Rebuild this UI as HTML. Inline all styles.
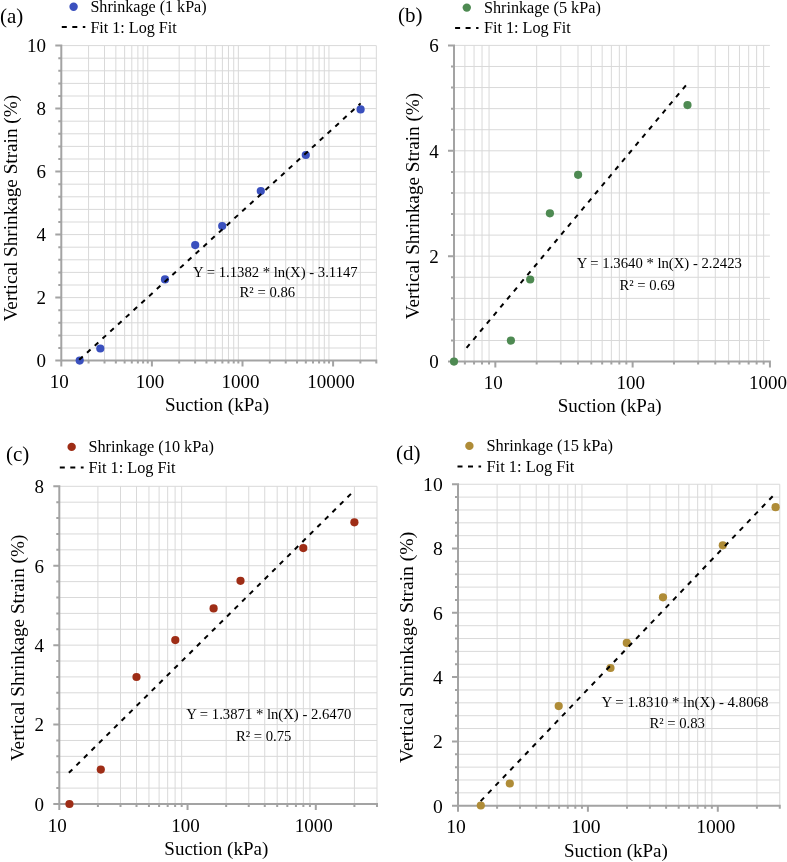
<!DOCTYPE html>
<html><head><meta charset="utf-8"><style>html,body{margin:0;padding:0;background:#fff;}svg{display:block;}</style></head>
<body>
<div style="will-change:transform">
<svg width="787" height="862" viewBox="0 0 787 862" style='font-family:"Liberation Serif", serif'>
<rect width="787" height="862" fill="#fff"/>
<path d="M61.3 348H376.33M61.3 335.4H376.33M61.3 322.8H376.33M61.3 310.2H376.33M61.3 297.6H376.33M61.3 285H376.33M61.3 272.4H376.33M61.3 259.8H376.33M61.3 247.2H376.33M61.3 234.6H376.33M61.3 222H376.33M61.3 209.4H376.33M61.3 196.8H376.33M61.3 184.2H376.33M61.3 171.6H376.33M61.3 159H376.33M61.3 146.4H376.33M61.3 133.8H376.33M61.3 121.2H376.33M61.3 108.6H376.33M61.3 96H376.33M61.3 83.4H376.33M61.3 70.8H376.33M61.3 58.2H376.33M61.3 45.6H376.33M88.57 45.6V360.6M104.53 45.6V360.6M115.85 45.6V360.6M124.63 45.6V360.6M131.8 45.6V360.6M137.87 45.6V360.6M143.12 45.6V360.6M147.75 45.6V360.6M179.17 45.6V360.6M195.13 45.6V360.6M206.45 45.6V360.6M215.23 45.6V360.6M222.4 45.6V360.6M228.47 45.6V360.6M233.72 45.6V360.6M238.35 45.6V360.6M269.77 45.6V360.6M285.73 45.6V360.6M297.05 45.6V360.6M305.83 45.6V360.6M313 45.6V360.6M319.07 45.6V360.6M324.32 45.6V360.6M328.95 45.6V360.6M360.37 45.6V360.6M376.33 45.6V360.6" stroke="#d9d9d9" stroke-width="1" fill="none"/>
<path d="M61.3 44.6V366.6M55.3 360.6H377.33M55.3 360.6H61.3M58.3 348H61.3M58.3 335.4H61.3M58.3 322.8H61.3M58.3 310.2H61.3M55.3 297.6H61.3M58.3 285H61.3M58.3 272.4H61.3M58.3 259.8H61.3M58.3 247.2H61.3M55.3 234.6H61.3M58.3 222H61.3M58.3 209.4H61.3M58.3 196.8H61.3M58.3 184.2H61.3M55.3 171.6H61.3M58.3 159H61.3M58.3 146.4H61.3M58.3 133.8H61.3M58.3 121.2H61.3M55.3 108.6H61.3M58.3 96H61.3M58.3 83.4H61.3M58.3 70.8H61.3M58.3 58.2H61.3M55.3 45.6H61.3M61.3 360.6V366.6M151.9 360.6V366.6M242.5 360.6V366.6M333.1 360.6V366.6M88.57 360.6V363.6M104.53 360.6V363.6M115.85 360.6V363.6M124.63 360.6V363.6M131.8 360.6V363.6M137.87 360.6V363.6M143.12 360.6V363.6M147.75 360.6V363.6M179.17 360.6V363.6M195.13 360.6V363.6M206.45 360.6V363.6M215.23 360.6V363.6M222.4 360.6V363.6M228.47 360.6V363.6M233.72 360.6V363.6M238.35 360.6V363.6M269.77 360.6V363.6M285.73 360.6V363.6M297.05 360.6V363.6M305.83 360.6V363.6M313 360.6V363.6M319.07 360.6V363.6M324.32 360.6V363.6M328.95 360.6V363.6M360.37 360.6V363.6M376.33 360.6V363.6" stroke="#a3a3a3" stroke-width="2" fill="none"/>
<circle cx="79.7" cy="360.6" r="4.1" fill="#3a50be"/>
<circle cx="100.3" cy="348.5" r="4.1" fill="#3a50be"/>
<circle cx="165" cy="279.4" r="4.1" fill="#3a50be"/>
<circle cx="195.2" cy="245.1" r="4.1" fill="#3a50be"/>
<circle cx="222.2" cy="226.1" r="4.1" fill="#3a50be"/>
<circle cx="260.8" cy="191.1" r="4.1" fill="#3a50be"/>
<circle cx="305.8" cy="155" r="4.1" fill="#3a50be"/>
<circle cx="360.6" cy="109.4" r="4.1" fill="#3a50be"/>
<path d="M79.23 359.82L360.6 103.38" stroke="#000" stroke-width="2" stroke-dasharray="4.8 5.7" fill="none"/>
<text x="46" y="367.4" font-size="19" text-anchor="end">0</text>
<text x="46" y="304.4" font-size="19" text-anchor="end">2</text>
<text x="46" y="241.4" font-size="19" text-anchor="end">4</text>
<text x="46" y="178.4" font-size="19" text-anchor="end">6</text>
<text x="46" y="115.4" font-size="19" text-anchor="end">8</text>
<text x="46" y="52.4" font-size="19" text-anchor="end">10</text>
<text x="59.3" y="388.2" font-size="19" text-anchor="middle">10</text>
<text x="149.9" y="388.2" font-size="19" text-anchor="middle">100</text>
<text x="240.5" y="388.2" font-size="19" text-anchor="middle">1000</text>
<text x="331.1" y="388.2" font-size="19" text-anchor="middle">10000</text>
<text transform="translate(16.7 208.15) rotate(-90)" font-size="19.2" text-anchor="middle">Vertical Shrinkage Strain (%)</text>
<text x="217" y="410.8" font-size="19" text-anchor="middle">Suction (kPa)</text>
<text x="275.35" y="277.2" font-size="14.7" text-anchor="middle">Y = 1.1382 * ln(X) - 3.1147</text>
<text x="267.35" y="296.6" font-size="14.7" text-anchor="middle">R² = 0.86</text>
<circle cx="73.6" cy="6.8" r="4.2" fill="#3a50be"/>
<path d="M61.8 27H85.3" stroke="#000" stroke-width="2" stroke-dasharray="5 5.5" fill="none"/>
<text x="90.4" y="12.4" font-size="16.1">Shrinkage (1 kPa)</text>
<text x="90.4" y="32.9" font-size="16.1">Fit 1: Log Fit</text>
<text x="0" y="22.6" font-size="21">(a)</text>
<path d="M454 340.52H769.93M454 319.44H769.93M454 298.36H769.93M454 277.28H769.93M454 256.2H769.93M454 235.12H769.93M454 214.04H769.93M454 192.96H769.93M454 171.88H769.93M454 150.8H769.93M454 129.72H769.93M454 108.64H769.93M454 87.56H769.93M454 66.48H769.93M454 45.4H769.93M464.87 45.4V361.6M474.06 45.4V361.6M482.03 45.4V361.6M489.05 45.4V361.6M536.66 45.4V361.6M560.84 45.4V361.6M577.99 45.4V361.6M591.3 45.4V361.6M602.17 45.4V361.6M611.36 45.4V361.6M619.33 45.4V361.6M626.35 45.4V361.6M673.96 45.4V361.6M698.14 45.4V361.6M715.29 45.4V361.6M728.6 45.4V361.6M739.47 45.4V361.6M748.66 45.4V361.6M756.63 45.4V361.6M763.65 45.4V361.6" stroke="#d9d9d9" stroke-width="1" fill="none"/>
<path d="M454 44.4V362.6M448 361.6H770.93M448 361.6H454M451 340.52H454M451 319.44H454M451 298.36H454M451 277.28H454M448 256.2H454M451 235.12H454M451 214.04H454M451 192.96H454M451 171.88H454M448 150.8H454M451 129.72H454M451 108.64H454M451 87.56H454M451 66.48H454M448 45.4H454M495.33 361.6V367.6M632.63 361.6V367.6M769.93 361.6V367.6M454 361.6V364.6M464.87 361.6V364.6M474.06 361.6V364.6M482.03 361.6V364.6M489.05 361.6V364.6M536.66 361.6V364.6M560.84 361.6V364.6M577.99 361.6V364.6M591.3 361.6V364.6M602.17 361.6V364.6M611.36 361.6V364.6M619.33 361.6V364.6M626.35 361.6V364.6M673.96 361.6V364.6M698.14 361.6V364.6M715.29 361.6V364.6M728.6 361.6V364.6M739.47 361.6V364.6M748.66 361.6V364.6M756.63 361.6V364.6M763.65 361.6V364.6" stroke="#a3a3a3" stroke-width="2" fill="none"/>
<circle cx="454" cy="361.6" r="4.1" fill="#4e8a52"/>
<circle cx="510.9" cy="340.6" r="4.1" fill="#4e8a52"/>
<circle cx="530.2" cy="279.5" r="4.1" fill="#4e8a52"/>
<circle cx="549.9" cy="213.3" r="4.1" fill="#4e8a52"/>
<circle cx="578.1" cy="174.8" r="4.1" fill="#4e8a52"/>
<circle cx="687.5" cy="105.1" r="4.1" fill="#4e8a52"/>
<path d="M466.56 347.89L687.5 83.43" stroke="#000" stroke-width="2" stroke-dasharray="4.82 5.72" fill="none"/>
<text x="438.7" y="368.4" font-size="19" text-anchor="end">0</text>
<text x="438.7" y="263" font-size="19" text-anchor="end">2</text>
<text x="438.7" y="157.6" font-size="19" text-anchor="end">4</text>
<text x="438.7" y="52.2" font-size="19" text-anchor="end">6</text>
<text x="493.33" y="389.2" font-size="19" text-anchor="middle">10</text>
<text x="630.63" y="389.2" font-size="19" text-anchor="middle">100</text>
<text x="767.93" y="389.2" font-size="19" text-anchor="middle">1000</text>
<text transform="translate(419.1 206.05) rotate(-90)" font-size="19.2" text-anchor="middle">Vertical Shrinkage Strain (%)</text>
<text x="609.7" y="411.5" font-size="19" text-anchor="middle">Suction (kPa)</text>
<text x="659.25" y="267.9" font-size="14.7" text-anchor="middle">Y = 1.3640 * ln(X) - 2.2423</text>
<text x="647.2" y="289.6" font-size="14.7" text-anchor="middle">R² = 0.69</text>
<circle cx="466.8" cy="7.6" r="4.2" fill="#4e8a52"/>
<path d="M455.1 28H478.5" stroke="#000" stroke-width="2" stroke-dasharray="5 5.5" fill="none"/>
<text x="483.9" y="13.3" font-size="16.2">Shrinkage (5 kPa)</text>
<text x="483.9" y="33.4" font-size="16.2">Fit 1: Log Fit</text>
<text x="398" y="21.8" font-size="21">(b)</text>
<path d="M59.3 788.12H376.99M59.3 772.23H376.99M59.3 756.35H376.99M59.3 740.46H376.99M59.3 724.58H376.99M59.3 708.69H376.99M59.3 692.8H376.99M59.3 676.92H376.99M59.3 661.03H376.99M59.3 645.15H376.99M59.3 629.26H376.99M59.3 613.38H376.99M59.3 597.5H376.99M59.3 581.61H376.99M59.3 565.73H376.99M59.3 549.84H376.99M59.3 533.95H376.99M59.3 518.07H376.99M59.3 502.19H376.99M59.3 486.3H376.99M97.91 486.3V804M120.49 486.3V804M136.51 486.3V804M148.94 486.3V804M159.1 486.3V804M167.68 486.3V804M175.12 486.3V804M181.68 486.3V804M226.16 486.3V804M248.74 486.3V804M264.76 486.3V804M277.19 486.3V804M287.35 486.3V804M295.93 486.3V804M303.37 486.3V804M309.93 486.3V804M354.41 486.3V804M376.99 486.3V804" stroke="#d9d9d9" stroke-width="1" fill="none"/>
<path d="M59.3 485.3V810M53.3 804H377.99M53.3 804H59.3M56.3 788.12H59.3M56.3 772.23H59.3M56.3 756.35H59.3M56.3 740.46H59.3M53.3 724.58H59.3M56.3 708.69H59.3M56.3 692.8H59.3M56.3 676.92H59.3M56.3 661.03H59.3M53.3 645.15H59.3M56.3 629.26H59.3M56.3 613.38H59.3M56.3 597.5H59.3M56.3 581.61H59.3M53.3 565.73H59.3M56.3 549.84H59.3M56.3 533.95H59.3M56.3 518.07H59.3M56.3 502.19H59.3M53.3 486.3H59.3M59.3 804V810M187.55 804V810M315.8 804V810M97.91 804V807M120.49 804V807M136.51 804V807M148.94 804V807M159.1 804V807M167.68 804V807M175.12 804V807M181.68 804V807M226.16 804V807M248.74 804V807M264.76 804V807M277.19 804V807M287.35 804V807M295.93 804V807M303.37 804V807M309.93 804V807M354.41 804V807M376.99 804V807" stroke="#a3a3a3" stroke-width="2" fill="none"/>
<circle cx="69.45" cy="804" r="4.1" fill="#9e2d16"/>
<circle cx="100.8" cy="769.6" r="4.1" fill="#9e2d16"/>
<circle cx="136.5" cy="677" r="4.1" fill="#9e2d16"/>
<circle cx="175.3" cy="640.1" r="4.1" fill="#9e2d16"/>
<circle cx="213.6" cy="608.4" r="4.1" fill="#9e2d16"/>
<circle cx="240.5" cy="580.8" r="4.1" fill="#9e2d16"/>
<circle cx="303.3" cy="548.05" r="4.1" fill="#9e2d16"/>
<circle cx="354.4" cy="522.3" r="4.1" fill="#9e2d16"/>
<path d="M68.89 772.82L354.4 490.46" stroke="#000" stroke-width="2" stroke-dasharray="4.84 5.75" fill="none"/>
<text x="44" y="810.8" font-size="19" text-anchor="end">0</text>
<text x="44" y="731.38" font-size="19" text-anchor="end">2</text>
<text x="44" y="651.95" font-size="19" text-anchor="end">4</text>
<text x="44" y="572.52" font-size="19" text-anchor="end">6</text>
<text x="44" y="493.1" font-size="19" text-anchor="end">8</text>
<text x="57.3" y="831.6" font-size="19" text-anchor="middle">10</text>
<text x="185.55" y="831.6" font-size="19" text-anchor="middle">100</text>
<text x="313.8" y="831.6" font-size="19" text-anchor="middle">1000</text>
<text transform="translate(24 647.9) rotate(-90)" font-size="19.2" text-anchor="middle">Vertical Shrinkage Strain (%)</text>
<text x="216.3" y="854.9" font-size="19" text-anchor="middle">Suction (kPa)</text>
<text x="268.75" y="719.4" font-size="14.7" text-anchor="middle">Y = 1.3871 * ln(X) - 2.6470</text>
<text x="263.7" y="740.5" font-size="14.7" text-anchor="middle">R² = 0.75</text>
<circle cx="71.65" cy="446.9" r="4.2" fill="#9e2d16"/>
<path d="M59.8 467.4H83.6" stroke="#000" stroke-width="2" stroke-dasharray="5 5.5" fill="none"/>
<text x="88.4" y="452.3" font-size="16.25">Shrinkage (10 kPa)</text>
<text x="88.4" y="472.8" font-size="16.25">Fit 1: Log Fit</text>
<text x="6" y="461" font-size="21">(c)</text>
<path d="M458 792.84H779.78M458 779.98H779.78M458 767.13H779.78M458 754.27H779.78M458 741.41H779.78M458 728.55H779.78M458 715.69H779.78M458 702.84H779.78M458 689.98H779.78M458 677.12H779.78M458 664.26H779.78M458 651.4H779.78M458 638.55H779.78M458 625.69H779.78M458 612.83H779.78M458 599.97H779.78M458 587.11H779.78M458 574.26H779.78M458 561.4H779.78M458 548.54H779.78M458 535.68H779.78M458 522.82H779.78M458 509.97H779.78M458 497.11H779.78M458 484.25H779.78M497.1 484.25V805.7M519.98 484.25V805.7M536.21 484.25V805.7M548.8 484.25V805.7M559.08 484.25V805.7M567.78 484.25V805.7M575.31 484.25V805.7M581.96 484.25V805.7M627 484.25V805.7M649.88 484.25V805.7M666.11 484.25V805.7M678.7 484.25V805.7M688.98 484.25V805.7M697.68 484.25V805.7M705.21 484.25V805.7M711.86 484.25V805.7M756.9 484.25V805.7M779.78 484.25V805.7" stroke="#d9d9d9" stroke-width="1" fill="none"/>
<path d="M458 483.25V811.7M452 805.7H780.78M452 805.7H458M455 792.84H458M455 779.98H458M455 767.13H458M455 754.27H458M452 741.41H458M455 728.55H458M455 715.69H458M455 702.84H458M455 689.98H458M452 677.12H458M455 664.26H458M455 651.4H458M455 638.55H458M455 625.69H458M452 612.83H458M455 599.97H458M455 587.11H458M455 574.26H458M455 561.4H458M452 548.54H458M455 535.68H458M455 522.82H458M455 509.97H458M455 497.11H458M452 484.25H458M458 805.7V811.7M587.9 805.7V811.7M717.8 805.7V811.7M497.1 805.7V808.7M519.98 805.7V808.7M536.21 805.7V808.7M548.8 805.7V808.7M559.08 805.7V808.7M567.78 805.7V808.7M575.31 805.7V808.7M581.96 805.7V808.7M627 805.7V808.7M649.88 805.7V808.7M666.11 805.7V808.7M678.7 805.7V808.7M688.98 805.7V808.7M697.68 805.7V808.7M705.21 805.7V808.7M711.86 805.7V808.7M756.9 805.7V808.7M779.78 805.7V808.7" stroke="#a3a3a3" stroke-width="2" fill="none"/>
<circle cx="480.8" cy="805.5" r="4.1" fill="#af8c37"/>
<circle cx="509.8" cy="783.5" r="4.1" fill="#af8c37"/>
<circle cx="558.7" cy="706.1" r="4.1" fill="#af8c37"/>
<circle cx="610.5" cy="668" r="4.1" fill="#af8c37"/>
<circle cx="626.8" cy="642.9" r="4.1" fill="#af8c37"/>
<circle cx="663" cy="597.3" r="4.1" fill="#af8c37"/>
<circle cx="722.8" cy="545.3" r="4.1" fill="#af8c37"/>
<circle cx="775.6" cy="507.2" r="4.1" fill="#af8c37"/>
<path d="M480.65 801.12L775.6 493.11" stroke="#000" stroke-width="2" stroke-dasharray="4.9 5.8" fill="none"/>
<text x="442.7" y="812.5" font-size="19.6" text-anchor="end">0</text>
<text x="442.7" y="748.21" font-size="19.6" text-anchor="end">2</text>
<text x="442.7" y="683.92" font-size="19.6" text-anchor="end">4</text>
<text x="442.7" y="619.63" font-size="19.6" text-anchor="end">6</text>
<text x="442.7" y="555.34" font-size="19.6" text-anchor="end">8</text>
<text x="442.7" y="491.05" font-size="19.6" text-anchor="end">10</text>
<text x="456" y="833.3" font-size="19.6" text-anchor="middle">10</text>
<text x="585.9" y="833.3" font-size="19.6" text-anchor="middle">100</text>
<text x="715.8" y="833.3" font-size="19.6" text-anchor="middle">1000</text>
<text transform="translate(413.1 647.45) rotate(-90)" font-size="19.6" text-anchor="middle">Vertical Shrinkage Strain (%)</text>
<text x="615.9" y="856.7" font-size="19" text-anchor="middle">Suction (kPa)</text>
<text x="684.95" y="707.4" font-size="14.85" text-anchor="middle">Y = 1.8310 * ln(X) - 4.8068</text>
<text x="677.15" y="727.6" font-size="14.7" text-anchor="middle">R² = 0.83</text>
<circle cx="469.4" cy="445.9" r="4.2" fill="#af8c37"/>
<path d="M457.5 466.6H481.1" stroke="#000" stroke-width="2" stroke-dasharray="5 5.5" fill="none"/>
<text x="486.5" y="451.2" font-size="16.4">Shrinkage (15 kPa)</text>
<text x="486.5" y="471.6" font-size="16.4">Fit 1: Log Fit</text>
<text x="396.1" y="460" font-size="21">(d)</text>
</svg>
</div>
</body></html>
